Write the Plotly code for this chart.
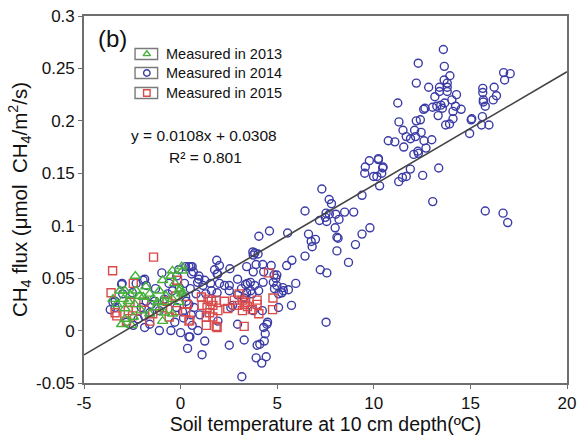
import plotly.graph_objects as go

# ---------------- data ----------------
x_2013 = [-2.34, -0.93, -0.42, 0.09, 0.06, -3.14, -2.88, -2.29, -2.12, -1.6, -1.1, -0.76, -0.07, 0.09,
          -2.96, -2.71, -2.37, -1.94, -1.44, -0.84, -0.42, -0.07, -2.88, -2.04, -1.27, -0.84, -1.6,
          -2.88, -2.45, -0.93, -0.42, -3.05, -2.54, -0.03, 0.06, -3.3, -1.8, -0.3, -2.6, -1.2, -0.5, -3.5]
y_2013 = [0.052, 0.048, 0.057, 0.057, 0.061, 0.038, 0.038, 0.038, 0.033, 0.035, 0.038, 0.033, 0.038, 0.036,
          0.030, 0.028, 0.025, 0.032, 0.030, 0.027, 0.030, 0.027, 0.021, 0.019, 0.022, 0.017, 0.016,
          0.011, 0.013, 0.009, 0.016, 0.006, 0.005, 0.040, 0.035, 0.025, 0.042, 0.045, 0.034, 0.027, 0.052, 0.030]

x_2015 = [-1.4, -3.52, -3.6, -2.45, -0.16, -3.39, -3.3, -2.71, -2.8, -1.6, -1.44, -2.29, -0.59, -0.25,
          -0.93, 0.35, 0.43, -0.25, -2.62, -2.49, 1.08, 1.42, 1.59, 1.84, 1.11, 1.37, 1.5, 1.93, 1.33,
          1.89, 2.27, 2.44, 3.03, 3.2, 3.37, 2.95, 3.29, 3.46, 3.2, 3.29, 3.96, 3.96, 4.78, 4.76, 0.26,
          0.48, 4.55, 2.78, 3.71, 4.05, 1.67, 1.84, 1.33, 1.67, -1.9, -0.7]
y_2015 = [0.070, 0.057, 0.036, 0.045, 0.048, 0.017, 0.014, 0.019, 0.009, 0.009, 0.016, 0.019, 0.013, 0.019,
          0.022, 0.025, 0.009, 0.033, 0.027, 0.014, 0.032, 0.030, 0.028, 0.029, 0.024, 0.022, 0.017, 0.019, 0.005,
          0.003, 0.028, 0.021, 0.035, 0.029, 0.027, 0.024, 0.025, 0.023, 0.019, 0.004, 0.029, 0.025, 0.031, 0.020, 0.018,
          0.010, 0.055, 0.029, 0.020, 0.016, 0.013, 0.004, 0.013, 0.024, 0.027, 0.028]

x_2014 = [13.6, 12.3, 13.65, 13.94, 12.2, 13.64, 13.8, 13.8, 13.8, 12.84, 13.4, 13.4, 14.28, 13.16, 11.24,
          14.04, 13.67, 13.47, 13.26, 13.55, 13.04, 12.65, 12.58, 14.23, 14.52, 14.1, 13.33, 14.1, 13.92,
          13.72, 12.2, 12.41, 11.3, 15.04, 14.96, 11.51, 11.68, 11.9, 12.11, 12.16, 12.45, 12.6, 13.0,
          10.75, 11.09, 11.55, 12.7, 12.28, 12.07, 12.31, 10.24, 10.48, 10.41, 10.16, 10.3, 11.89, 11.68,
          11.48, 11.29, 12.53, 13.36, 13.05, 16.72, 17.06, 16.77, 15.64, 15.64, 16.23, 16.35, 16.18, 15.67,
          15.67, 15.77, 15.07, 15.62, 15.58, 15.96, 15.77, 16.69, 16.93,
          9.77, 10.24, 9.56, 10.46, 9.53, 9.99, 9.39, 7.31, 7.69, 7.81, 6.44, 7.53, 7.7, 7.49, 7.19, 7.56,
          8.03, 8.2, 8.49, 8.96, 5.54, 6.62, 6.76, 6.81, 6.98, 8.0, 8.09, 8.15, 8.09, 9.39, 9.8, 9.05, 8.69,
          6.44, 5.76, 5.49, 7.23, 7.57, 4.98, 4.98, 5.24, 5.58, 5.96, 5.74, 5.07, 7.53,
          4.6, 4.05, 3.84, 4.01, 3.76, 3.74, 1.87, 2.01, 2.55, 1.76, 1.89, 0.6, 0.57, 3.42, 3.91, 4.25, 4.69,
          3.76, 4.3, 4.84, 4.93, 0.94, 1.16, 1.55, 2.01, 2.52, 2.95, 3.46, 3.83, 4.27, 5.32, 4.86, 3.15,
          3.42, 3.63, 2.95, 3.29, 2.69, 2.6, 3.76, 4.23, 4.47, 4.3, 4.38, 4.33, 3.96, 4.43, 3.91, 4.2, 5.07,
          5.29, 0.48, 0.36, 1.11, 1.25, 2.52, 3.29, 3.17, 1.92, 2.27, 1.89, 2.52, 3.36, 3.61, 4.04, 4.8, 3.7,
          2.95, 1.93, 4.5, 4.1, 0.53, -0.1, 0.66, 0.95, 1.25, 0.88,
          -0.97, -3.05, -1.86, -1.78, 0.26, -3.39, -3.64, -3.39, -2.8, -2.45, -1.86, -1.6, -1.1, -0.5, 0.0,
          0.43, -2.2, -1.86, -1.6, -1.1, -2.04, -1.52, -1.78, -1.35, -0.84, -0.67, -0.42, -0.07, 0.26, 0.43,
          -1.94, 0.43, -3.03, -3.5, 0.2, 0.5, 0.8, 0.3, 0.7, 1.0, 0.15, 0.6, 0.9, -0.2, -0.3, 1.3, 1.6, 0.1,
          0.55, -0.6, -1.3, -2.5, -3.0, -2.3, -0.2]
y_2014 = [0.268, 0.255, 0.252, 0.243, 0.236, 0.239, 0.236, 0.232, 0.228, 0.232, 0.232, 0.228, 0.225, 0.223, 0.217,
          0.220, 0.217, 0.215, 0.214, 0.212, 0.213, 0.212, 0.211, 0.214, 0.211, 0.209, 0.205, 0.202, 0.197,
          0.196, 0.200, 0.201, 0.199, 0.201, 0.188, 0.191, 0.185, 0.183, 0.191, 0.185, 0.189, 0.181, 0.182,
          0.181, 0.180, 0.175, 0.174, 0.171, 0.168, 0.169, 0.164, 0.156, 0.150, 0.147, 0.138, 0.154, 0.147,
          0.146, 0.142, 0.148, 0.155, 0.123, 0.246, 0.245, 0.239, 0.231, 0.227, 0.232, 0.224, 0.220, 0.220,
          0.218, 0.214, 0.202, 0.204, 0.196, 0.196, 0.114, 0.112, 0.103,
          0.162, 0.163, 0.156, 0.155, 0.150, 0.147, 0.129, 0.135, 0.125, 0.121, 0.114, 0.112, 0.111, 0.108, 0.105, 0.104,
          0.111, 0.106, 0.113, 0.113, 0.093, 0.092, 0.085, 0.080, 0.087, 0.098, 0.089, 0.088, 0.076, 0.092, 0.098, 0.082, 0.065,
          0.071, 0.067, 0.062, 0.058, 0.055, 0.053, 0.043, 0.036, 0.039, 0.045, 0.024, 0.022, 0.008,
          0.095, 0.090, 0.074, 0.073, 0.072, 0.075, 0.067, 0.062, 0.059, 0.058, 0.054, 0.061, 0.054, 0.061, 0.063, 0.063, 0.062,
          0.056, 0.056, 0.053, 0.050, 0.049, 0.043, 0.045, 0.045, 0.043, 0.049, 0.045, 0.043, 0.046, 0.038, 0.040, 0.040,
          0.036, 0.038, 0.034, 0.031, 0.024, 0.022, 0.019, 0.019, 0.006, 0.003, -0.003, -0.010, -0.014, -0.025, -0.026, -0.031, 0.035,
          0.041, -0.006, -0.017, -0.023, -0.010, -0.014, -0.009, -0.044, 0.054, 0.043, 0.036, 0.038, 0.044, 0.046, 0.038, 0.046, 0.035,
          0.006, 0.009, 0.008, -0.013, 0.061, 0.058, 0.056, 0.052, 0.048, 0.046,
          0.055, 0.044, 0.049, 0.043, 0.061, 0.028, 0.020, 0.022, 0.008, 0.005, 0.003, 0.006, 0.000, 0.000, -0.002,
          -0.006, 0.011, 0.014, 0.017, 0.019, 0.022, 0.025, 0.028, 0.028, 0.030, 0.035, 0.038, 0.041, 0.032, 0.025,
          0.048, 0.061, 0.045, 0.027, 0.045, 0.040, 0.035, 0.028, 0.022, 0.015, 0.012, 0.005, 0.000, 0.022, 0.008, 0.035, 0.038, 0.018,
          0.015, 0.045, 0.040, 0.036, 0.035, 0.045, 0.052]

fit_slope = 0.0108
fit_intercept = 0.0308
fit_r2 = 0.801
fit_x = [-5, 20]

x_tickvals = [-5, 0, 5, 10, 15, 20]
x_ticktext = ["-5", "0", "5", "10", "15", "20"]
y_tickvals = [-0.05, 0, 0.05, 0.1, 0.15, 0.2, 0.25, 0.3]
y_ticktext = ["-0.05", "0", "0.05", "0.1", "0.15", "0.2", "0.25", "0.3"]

legend_labels = ["Measured in 2013", "Measured in 2014", "Measured in 2015"]

# ---------------- figure ----------------
W, H = 582, 439
ML, MR, MT, MB = 84, 6, 16, 56
PW, PH = W - ML - MR, H - MT - MB


def px(xp):
    return (xp - ML) / PW


def py(yp):
    return (H - MB - yp) / PH


BLUE = "#3b3ba6"
RED = "#d94a4a"
GREEN = "#46b23a"
FONT = "Liberation Sans, Arial, sans-serif"

sym = {"2013": ("triangle-up-open", GREEN, 9), "2014": ("circle-open", BLUE, 8), "2015": ("square-open", RED, 8)}

fig = go.Figure()

fig.add_trace(go.Scatter(
    x=x_2014, y=y_2014, mode="markers", name=legend_labels[1], showlegend=False,
    marker=dict(symbol=sym["2014"][0], size=sym["2014"][2], color=BLUE, line=dict(width=1.4))))
fig.add_trace(go.Scatter(
    x=x_2015, y=y_2015, mode="markers", name=legend_labels[2], showlegend=False,
    marker=dict(symbol=sym["2015"][0], size=sym["2015"][2], color=RED, line=dict(width=1.4))))
fig.add_trace(go.Scatter(
    x=x_2013, y=y_2013, mode="markers", name=legend_labels[0], showlegend=False,
    marker=dict(symbol=sym["2013"][0], size=sym["2013"][2], color=GREEN, line=dict(width=1.4))))
fig.add_trace(go.Scatter(
    x=fit_x, y=[fit_slope * v + fit_intercept for v in fit_x], mode="lines",
    line=dict(color="#444444", width=1.6), showlegend=False, hoverinfo="skip"))

# manual legend (boxed symbols + text), drawn on an overlay axis in plot-area fractions
leg_rows = [54, 73, 93]
for (key, label, yc) in zip(["2013", "2014", "2015"], legend_labels, leg_rows):
    s, c, _ = sym[key]
    fig.add_trace(go.Scatter(
        x=[px(148)], y=[py(yc)], xaxis="x2", yaxis="y2", mode="markers", showlegend=False,
        hoverinfo="skip", marker=dict(symbol=s, size=6.5, color=c, line=dict(width=1.4))))
    fig.add_shape(type="rect", xref="paper", yref="paper",
                  x0=px(136), x1=px(159), y0=py(yc + 5.5), y1=py(yc - 5.5),
                  line=dict(color="#7a7a7a", width=1.4), fillcolor="rgba(0,0,0,0)")
    fig.add_annotation(text=label, xref="paper", yref="paper", x=px(165), y=py(yc),
                       xanchor="left", yanchor="middle", showarrow=False,
                       font=dict(family=FONT, size=14.5, color="#111111"))

axis_common = dict(
    showgrid=False, zeroline=False, showline=True, linecolor="#6e6e6e", linewidth=1.6,
    mirror=True, ticks="outside", ticklen=4, tickwidth=1.2, tickcolor="#6e6e6e",
    tickfont=dict(family=FONT, size=17, color="#111111"), ticklabeloverflow="allow",
)

fig.update_layout(
    width=W, height=H,
    margin=dict(l=ML, r=MR, t=MT, b=MB),
    paper_bgcolor="white", plot_bgcolor="white",
    font=dict(family=FONT, color="#111111"),
    xaxis=dict(range=[-5, 20], tickvals=x_tickvals, ticktext=x_ticktext,
               title=dict(text="Soil temperature at 10 cm depth(ºC)", font=dict(size=19.5), standoff=2),
               **axis_common),
    yaxis=dict(range=[-0.05, 0.3], tickvals=y_tickvals, ticktext=y_ticktext,
               title=dict(text="CH<sub>4</sub> flux (μmol  CH<sub>4</sub>/m<sup>2</sup>/s)", font=dict(size=20.5), standoff=3),
               **axis_common),
    xaxis2=dict(overlaying="x", range=[0, 1], visible=False, fixedrange=True),
    yaxis2=dict(overlaying="y", range=[0, 1], visible=False, fixedrange=True),
    showlegend=False,
)

fig.add_annotation(text="(b)", xref="paper", yref="paper", x=px(96), y=py(38),
                   xanchor="left", yanchor="middle", showarrow=False,
                   font=dict(family=FONT, size=24, color="#111111"))
fig.add_annotation(text=f"y = {fit_slope}x + {fit_intercept}", xref="paper", yref="paper",
                   x=px(206), y=py(135), xanchor="center", yanchor="middle", showarrow=False,
                   font=dict(family=FONT, size=15.5, color="#111111"))
fig.add_annotation(text=f"R² = {fit_r2}", xref="paper", yref="paper",
                   x=px(208), y=py(157), xanchor="center", yanchor="middle", showarrow=False,
                   font=dict(family=FONT, size=15.5, color="#111111"))

fig.write_html("out.html")
